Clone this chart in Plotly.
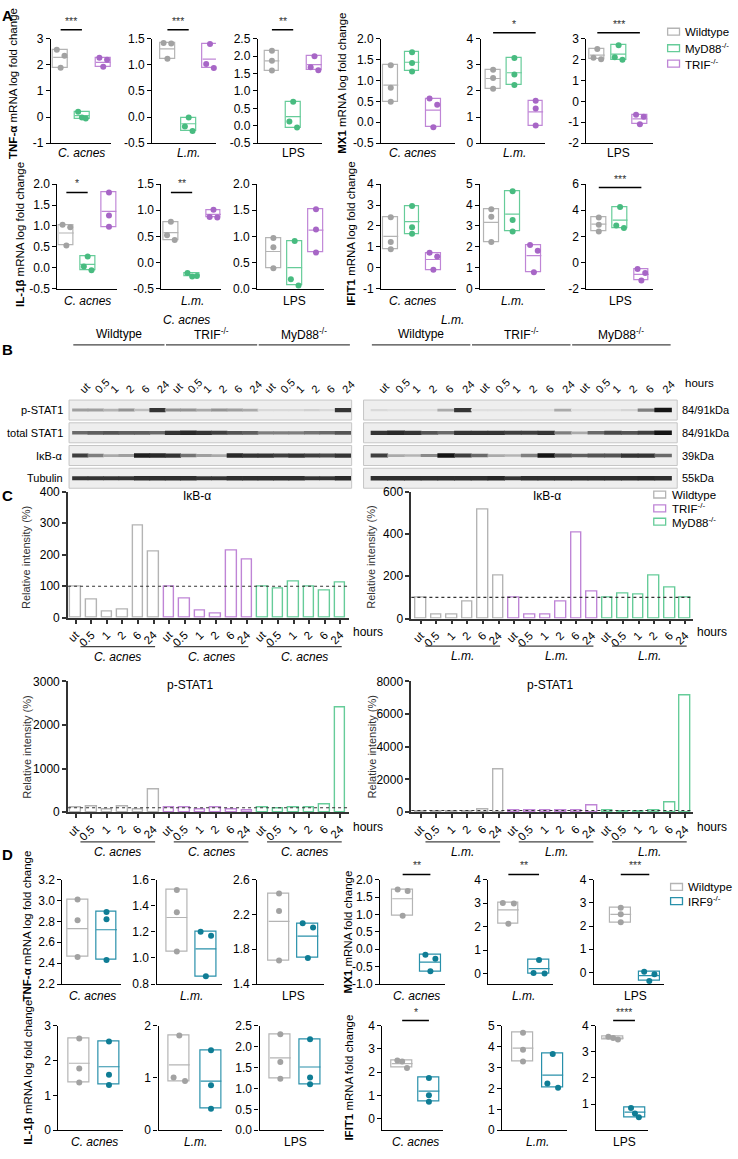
import plotly.graph_objects as go

W, H = 738, 1159
FONT = "Liberation Sans, Arial, sans-serif"

# ---------------- colours ----------------
C_WT, C_WT_D = "#b4b4b4", "#a2a2a2"
C_MYD, C_MYD_D = "#66cc99", "#48bb80"
C_TRIF, C_TRIF_D = "#bf85d6", "#a766c6"
C_IRF, C_IRF_D = "#2890aa", "#0f7d95"

# ---------------- Panel A data (log fold change) ----------------
a_groups = ["Wildtype", "MyD88<sup>-/-</sup>", "TRIF<sup>-/-</sup>"]
tnfa_cacnes = [[2.58, 2.35, 1.89], [0.20, -0.02, -0.06], [2.28, 2.20, 1.93]]
tnfa_cacnes_mid = [2.29, 0.05, 2.10]
tnfa_lm = [[1.42, 1.41, 1.12], [-0.01, -0.18, -0.27], [1.40, 1.02, 0.94]]
tnfa_lm_mid = [1.31, -0.13, 1.11]
tnfa_lps = [[2.16, 1.87, 1.59], [0.69, 0.12, -0.05], [2.00, 1.68, 1.60]]
tnfa_lps_mid = [1.87, 0.26, 1.76]
mx1_cacnes = [[1.37, 0.83, 0.49], [1.68, 1.42, 1.22], [0.57, 0.42, -0.12]]
mx1_cacnes_mid = [0.89, 1.44, 0.29]
mx1_lm = [[2.82, 2.50, 2.09], [3.27, 2.63, 2.23], [1.62, 1.33, 0.67]]
mx1_lm_mid = [2.48, 2.70, 1.20]
mx1_lps = [[2.52, 2.10, 2.02], [2.70, 2.12, 2.00], [-0.64, -0.74, -1.10]]
mx1_lps_mid = [2.22, 2.27, -0.84]
il1b_cacnes = [[1.03, 0.97, 0.53], [0.27, 0.03, -0.06], [1.80, 1.25, 0.98]]
il1b_cacnes_mid = [0.83, 0.08, 1.35]
il1b_lm = [[0.78, 0.52, 0.43], [-0.20, -0.27, -0.26], [1.01, 0.87, 0.86]]
il1b_lm_mid = [0.57, -0.24, 0.92]
il1b_lps = [[0.97, 0.79, 0.39], [0.91, 0.18, 0.06], [1.52, 1.13, 0.69]]
il1b_lps_mid = [0.71, 0.40, 1.12]
ifit1_cacnes = [[2.41, 1.23, 0.88], [2.95, 1.94, 1.63], [0.72, 0.53, -0.10]]
ifit1_cacnes_mid = [1.50, 2.20, 0.39]
ifit1_lm = [[3.80, 3.44, 2.23], [4.66, 3.28, 2.73], [2.08, 1.81, 0.78]]
ifit1_lm_mid = [3.17, 3.56, 1.58]
ifit1_lps = [[3.45, 2.88, 2.38], [4.25, 2.83, 2.63], [-0.50, -0.80, -1.38]]
ifit1_lps_mid = [2.93, 3.25, -0.92]

# ---------------- Panel B data (band intensity 0..1) ----------------
lanes = ["ut", "0.5", "1", "2", "6", "24"]
blot_groups = ["Wildtype", "TRIF<sup>-/-</sup>", "MyD88<sup>-/-</sup>"]
blot_rows = ["p-STAT1", "total STAT1", "IκB-α", "Tubulin"]
blot_kda = ["84/91kDa", "84/91kDa", "39kDa", "55kDa"]
blot_cacnes_pstat1 = [0.35, 0.35, 0.25, 0.40, 0.20, 0.85, 0.40, 0.40, 0.30, 0.40, 0.35, 0.30, 0.08, 0.08, 0.08, 0.12, 0.08, 0.85]
blot_cacnes_stat1 = [0.60, 0.65, 0.70, 0.65, 0.65, 0.60, 0.85, 0.90, 0.85, 0.80, 0.70, 0.65, 0.50, 0.50, 0.50, 0.55, 0.60, 0.70]
blot_cacnes_ikba = [0.80, 0.50, 0.30, 0.35, 0.95, 0.90, 0.85, 0.55, 0.35, 0.30, 0.90, 0.85, 0.85, 0.80, 0.85, 0.80, 0.75, 0.85]
blot_cacnes_tub = [0.85, 0.85, 0.85, 0.85, 0.88, 0.88, 0.88, 0.88, 0.85, 0.85, 0.88, 0.88, 0.88, 0.88, 0.88, 0.85, 0.85, 0.90]
blot_lm_pstat1 = [0.08, 0.05, 0.05, 0.05, 0.30, 0.85, 0.05, 0.05, 0.05, 0.05, 0.05, 0.30, 0.05, 0.05, 0.05, 0.10, 0.50, 1.00]
blot_lm_stat1 = [0.85, 0.90, 0.85, 0.70, 0.60, 0.85, 0.85, 0.85, 0.80, 0.80, 0.85, 0.50, 0.30, 0.60, 0.75, 0.70, 0.80, 1.00]
blot_lm_ikba = [0.80, 0.30, 0.25, 0.45, 1.00, 0.80, 0.60, 0.30, 0.25, 0.50, 1.00, 0.70, 0.65, 0.70, 0.70, 0.85, 0.85, 0.60]
blot_lm_tub = [0.88, 0.88, 0.88, 0.88, 0.88, 0.88, 0.88, 0.92, 0.85, 0.88, 0.88, 0.88, 0.88, 0.88, 0.88, 0.88, 0.90, 0.88]

# ---------------- Panel C data (relative intensity %) ----------------
c_groups = ["Wildtype", "TRIF<sup>-/-</sup>", "MyD88<sup>-/-</sup>"]
ikba_cacnes = [[100, 58, 20, 27, 293, 211], [100, 62, 24, 14, 212, 186], [100, 94, 115, 100, 86, 113]]
ikba_lm = [[100, 18, 18, 82, 517, 204], [100, 18, 18, 82, 405, 127], [100, 117, 115, 203, 144, 100]]
pstat1_cacnes = [[100, 128, 60, 135, 60, 514], [100, 100, 60, 100, 55, 50], [100, 80, 100, 110, 166, 2404]]
pstat1_lm = [[60, 50, 40, 40, 160, 2640], [80, 80, 120, 80, 110, 400], [80, 60, 70, 80, 585, 7150]]

# ---------------- Panel D data ----------------
d_groups = ["Wildtype", "IRF9<sup>-/-</sup>"]
d_tnfa_cacnes = [[3.01, 2.81, 2.46], [2.89, 2.82, 2.43]]
d_tnfa_cacnes_mid = [2.73, 2.72]
d_tnfa_lm = [[1.52, 1.35, 1.05], [1.20, 1.17, 0.86]]
d_tnfa_lm_mid = [1.31, 1.07]
d_tnfa_lps = [[2.44, 2.24, 1.67], [2.10, 2.05, 1.70]]
d_tnfa_lps_mid = [2.12, 1.95]
d_mx1_cacnes = [[1.72, 1.67, 0.96], [-0.16, -0.27, -0.63]]
d_mx1_cacnes_mid = [1.45, -0.37]
d_mx1_lm = [[3.00, 2.98, 2.12], [0.58, 0.02, 0.00]]
d_mx1_lm_mid = [2.71, 0.21]
d_mx1_lps = [[2.79, 2.51, 2.16], [0.03, -0.08, -0.37]]
d_mx1_lps_mid = [2.50, -0.14]
d_il1b_cacnes = [[2.63, 1.77, 1.37], [2.54, 1.59, 1.30]]
d_il1b_cacnes_mid = [1.92, 1.82]
d_il1b_lm = [[1.81, 1.01, 0.94], [1.53, 0.86, 0.41]]
d_il1b_lm_mid = [1.25, 0.94]
d_il1b_lps = [[2.29, 1.63, 1.23], [2.17, 1.26, 1.10]]
d_il1b_lps_mid = [1.73, 1.51]
d_ifit1_cacnes = [[2.50, 2.45, 2.18], [1.75, 1.01, 0.73]]
d_ifit1_cacnes_mid = [2.36, 1.18]
d_ifit1_lm = [[4.66, 3.84, 3.28], [3.64, 2.23, 2.03]]
d_ifit1_lm_mid = [3.92, 2.63]
d_ifit1_lps = [[3.57, 3.52, 3.47], [0.85, 0.64, 0.50]]
d_ifit1_lps_mid = [3.52, 0.69]

# =====================================================================
fig = go.Figure()
layout = dict(width=W, height=H, margin=dict(l=0, r=0, t=0, b=0),
              paper_bgcolor="white", plot_bgcolor="rgba(0,0,0,0)",
              showlegend=False, font=dict(family=FONT, color="black", size=12),
              bargap=0)
shapes, annots = [], []
n_ax = [0]


def px2x(p):
    return p / W


def px2y(p):
    return 1 - p / H


def make_axes(L, R, T, B, xr, yr, xkw=None, ykw=None):
    n_ax[0] += 1
    k = n_ax[0]
    s = "" if k == 1 else str(k)
    xa = dict(domain=[L / W, R / W], range=xr, anchor="y" + s, showgrid=False,
              zeroline=False, fixedrange=True)
    ya = dict(domain=[1 - B / H, 1 - T / H], range=yr, anchor="x" + s, showgrid=False,
              zeroline=False, fixedrange=True)
    xa.update(xkw or {})
    ya.update(ykw or {})
    layout["xaxis" + s] = xa
    layout["yaxis" + s] = ya
    return "x" + s, "y" + s


def ticks(lo, hi, step, dec):
    n = int(round((hi - lo) / step))
    vals = [round(lo + i * step, 6) for i in range(n + 1)]
    return vals, [f"{v:.{dec}f}" for v in vals]


def spread(vals, ppu):
    n = len(vals)
    off = [0.0] * n
    for i in range(n):
        close = [j for j in range(n) if j != i and abs(vals[i] - vals[j]) * ppu < 6.5]
        if len(close) >= 2:
            off[i] = [-0.22, 0.0, 0.22][i]
        elif len(close) == 1:
            off[i] = -0.18 if i < close[0] else 0.18
    return off


def text(x, y, t, size=12, xanchor="center", yanchor="middle", color="black", angle=0, xref="paper"):
    annots.append(dict(x=x if xref != "paper" else px2x(x), xref=xref, y=px2y(y), yref="paper",
                       text=t, showarrow=False, xanchor=xanchor, yanchor=yanchor,
                       textangle=angle, font=dict(size=size, color=color)))


def box_panel(L, R, T, B, c0, sp, bw_px, yr, tk, pts, mids, cols, dcols, label, italic, label_y):
    xr = [(L - c0) / sp, (R - c0) / sp]
    tv, tt = tk
    ykw = dict(showline=True, linecolor="black", linewidth=1.2, ticks="outside", ticklen=4,
               tickwidth=1.2, tickcolor="black", tickvals=tv, ticktext=tt, tickfont=dict(size=12))
    xkw = dict(showline=True, linecolor="black", linewidth=1.2, showticklabels=False, ticks="")
    xa, ya = make_axes(L, R, T, B, xr, yr, xkw, ykw)
    bw = bw_px / sp
    n = len(pts)
    xs = list(range(n))
    lo = [min(p) for p in pts]
    hi = [max(p) for p in pts]
    fig.add_trace(go.Bar(x=xs, y=[h - l for h, l in zip(hi, lo)], base=lo, width=bw,
                         marker=dict(color="rgba(255,255,255,0)", line=dict(color=cols, width=1.2)),
                         xaxis=xa, yaxis=ya, hoverinfo="skip"))
    for i in range(n):
        fig.add_trace(go.Scatter(x=[i - bw / 2, i + bw / 2], y=[mids[i], mids[i]], mode="lines",
                                 line=dict(color=cols[i], width=1.2), xaxis=xa, yaxis=ya,
                                 hoverinfo="skip"))
    ppu = (B - T) / (yr[1] - yr[0])
    X, Y, C = [], [], []
    for i, p in enumerate(pts):
        for v, o in zip(p, spread(p, ppu)):
            X.append(i + o)
            Y.append(v)
            C.append(dcols[i])
    fig.add_trace(go.Scatter(x=X, y=Y, mode="markers", marker=dict(color=C, size=6),
                             xaxis=xa, yaxis=ya, cliponaxis=False, hoverinfo="skip"))
    text((n - 1) / 2, label_y, f"<i>{label}</i>" if italic else label, size=12, xref=xa)
    return xa


def sig(xa, i0, i1, yl, stars):
    shapes.append(dict(type="line", xref=xa, x0=i0, x1=i1, yref="paper", y0=px2y(yl), y1=px2y(yl),
                       line=dict(color="black", width=1.5)))
    text((i0 + i1) / 2, yl - 1, stars, size=10.5, yanchor="bottom", color="#333", xref=xa)


def ytitle(x, yc, bold, rest, size=11.5):
    text(x, yc, f"<b>{bold}</b> {rest}", size=size, angle=-90)


def legend(x, ys, names, cols, size=11.5):
    for y, nm, c in zip(ys, names, cols):
        shapes.append(dict(type="rect", xref="paper", yref="paper", x0=px2x(x), x1=px2x(x + 12),
                           y0=px2y(y + 3.5), y1=px2y(y - 3.5), line=dict(color=c, width=1.3),
                           fillcolor="white"))
        text(x + 16, y, nm, size=size, xanchor="left")


# ---------------- Panel A ----------------
A3 = [C_WT, C_MYD, C_TRIF]
A3d = [C_WT_D, C_MYD_D, C_TRIF_D]
SP = 21.5
R1T, R1B, R1L = 32.3, 137.7, 148
R2T, R2B, R2L = 179.3, 285.0, 298

xa = box_panel(49.3, 110, R1T, R1B, 59.2, SP, 15, [-1, 3], ticks(-1, 3, 1, 0), tnfa_cacnes, tnfa_cacnes_mid, A3, A3d, "C. acnes", True, R1L)
sig(xa, 0, 1, 23, "***")
xa = box_panel(151.7, 216, R1T, R1B, 167, SP, 15, [-0.5, 1.5], ticks(-0.5, 1.5, 0.5, 1), tnfa_lm, tnfa_lm_mid, A3, A3d, "L.m.", True, R1L)
sig(xa, 0, 1, 23, "***")
xa = box_panel(258.3, 323, R1T, R1B, 272.5, SP, 15, [-0.5, 2.5], ticks(-0.5, 2.5, 0.5, 1), tnfa_lps, tnfa_lps_mid, A3, A3d, "LPS", False, R1L)
sig(xa, 0, 1, 23, "**")
xa = box_panel(382.7, 457, R1T, R1B, 392.5, SP, 15, [-0.5, 2.0], ticks(-0.5, 2.0, 0.5, 1), mx1_cacnes, mx1_cacnes_mid, A3, A3d, "C. acnes", True, R1L)
xa = box_panel(483.3, 548, R1T, R1B, 495.8, SP, 15, [0, 4], ticks(0, 4, 1, 0), mx1_lm, mx1_lm_mid, A3, A3d, "L.m.", True, R1L)
sig(xa, 0, 2, 26, "*")
xa = box_panel(590, 657, R1T, R1B, 601, SP, 15, [-2, 3], ticks(-2, 3, 1, 0), mx1_lps, mx1_lps_mid, A3, A3d, "LPS", False, R1L)
sig(xa, 0, 2, 26, "***")

xa = box_panel(56, 116, R2T, R2B, 65, SP, 15, [-0.5, 2.0], ticks(-0.5, 2.0, 0.5, 1), il1b_cacnes, il1b_cacnes_mid, A3, A3d, "C. acnes", True, R2L)
sig(xa, 0, 1, 187.7, "*")
xa = box_panel(161, 221, R2T, R2B, 170.5, SP, 15, [-0.5, 1.5], ticks(-0.5, 1.5, 0.5, 1), il1b_lm, il1b_lm_mid, A3, A3d, "L.m.", True, R2L)
sig(xa, 0, 1, 187.7, "**")
xa = box_panel(257.7, 325, R2T, R2B, 274, SP, 15, [0, 2.0], ticks(0, 2.0, 0.5, 1), il1b_lps, il1b_lps_mid, A3, A3d, "LPS", False, R2L)
xa = box_panel(382.7, 458, R2T, R2B, 392.5, SP, 15, [-1, 4], ticks(-1, 4, 1, 0), ifit1_cacnes, ifit1_cacnes_mid, A3, A3d, "C. acnes", True, R2L)
xa = box_panel(482.7, 548, R2T, R2B, 494, SP, 15, [0, 5], ticks(0, 5, 1, 0), ifit1_lm, ifit1_lm_mid, A3, A3d, "L.m.", True, R2L)
xa = box_panel(590, 657, R2T, R2B, 602.5, SP, 15, [-2, 6], ticks(-2, 6, 2, 0), ifit1_lps, ifit1_lps_mid, A3, A3d, "LPS", False, R2L)
sig(xa, 0, 2, 182.7, "***")

ytitle(11, 77, "TNF-α", "mRNA log fold change")
ytitle(343, 77, "MX1", "mRNA log fold change")
ytitle(18, 230, "IL-1β", "mRNA log fold change")
ytitle(353, 230, "IFIT1", "mRNA log fold change")
legend(672, [25, 41.7, 57.3], a_groups, A3)
text(6, 9, "<b>A</b>", size=15, xanchor="center")

# ---------------- Panel B (western blots) ----------------
ROWC = [408, 431, 454, 477]
ROWSP = 23.0


def gray(i):
    v = int(round(234 - 214 * i))
    return f"rgb({v},{v},{v})"


def blot_panel(L, R, c0, sp, rows, species, species_px, left_labels, right_labels):
    xr = [(L - c0) / sp, (R - c0) / sp]
    T = ROWC[0] - ROWSP / 2
    B = ROWC[-1] + ROWSP / 2
    yr = [-(len(rows) - 1) - 0.5, 0.5]
    xkw = dict(side="top", tickvals=list(range(18)), ticktext=lanes * 3, tickangle=-45, ticks="",
               showline=False, tickfont=dict(size=11))
    ykw = dict(showticklabels=False, ticks="", showline=False)
    xa, ya = make_axes(L, R, T, B, xr, yr, xkw, ykw)
    for r, ints in enumerate(rows):
        shapes.append(dict(type="rect", xref=xa + " domain", x0=0, x1=1, yref=ya, y0=-r - 0.44,
                           y1=-r + 0.44, fillcolor="#eeeeee", line=dict(color="#c6c6c6", width=1),
                           layer="below"))
        fig.add_trace(go.Scatter(x=list(range(18)), y=[-r] * 18, mode="markers",
                                 marker=dict(symbol="line-ew", size=sp * 0.74,
                                             line=dict(color=[gray(i) for i in ints],
                                                       width=[2.0 + 2.6 * i for i in ints])),
                                 xaxis=xa, yaxis=ya, hoverinfo="skip"))
        if left_labels:
            text(L - 4, ROWC[r], left_labels[r], size=11, xanchor="right")
        if right_labels:
            text(R + 3, ROWC[r], right_labels[r], size=11, xanchor="left")
    for g, nm in enumerate(blot_groups):
        text(g * 6 + 2.5, 331, nm, size=12, xref=xa)
        shapes.append(dict(type="line", xref=xa, x0=g * 6 - 0.45, x1=g * 6 + 5.45, yref="paper",
                           y0=px2y(342), y1=px2y(342), line=dict(color="#444", width=1.2)))
    text(species_px, 317, f"<i>{species}</i>", size=12)
    return xa


blot_panel(67.7, 353, 79, 15.6,
           [blot_cacnes_pstat1, blot_cacnes_stat1, blot_cacnes_ikba, blot_cacnes_tub],
           "C. acnes", 186, blot_rows, None)
blot_panel(365, 681.7, 381, 16.85,
           [blot_lm_pstat1, blot_lm_stat1, blot_lm_ikba, blot_lm_tub],
           "L.m.", 455, None, blot_kda)
text(688, 381, "hours", size=11.5, xanchor="left")
text(6, 347, "<b>B</b>", size=15)

# ---------------- Panel C (quantification) ----------------
C3 = [C_WT, C_TRIF, C_MYD]


def bar_panel(L, R, T, B, c0, sp, yr, tk, groups, title, title_x, species, hours_y, line_y, lab_y):
    xr = [(L - c0) / sp, (R - c0) / sp]
    tv, tt = tk
    axc = "#333"
    xkw = dict(showline=True, linecolor=axc, linewidth=1.8, ticks="outside", ticklen=4, tickwidth=1.5,
               tickcolor=axc, tickvals=list(range(18)), ticktext=lanes * 3, tickangle=-45,
               tickfont=dict(size=11.5))
    ykw = dict(showline=True, linecolor=axc, linewidth=1.8, ticks="outside", ticklen=4, tickwidth=1.5,
               tickcolor=axc, tickvals=tv, ticktext=tt, tickfont=dict(size=12))
    xa, ya = make_axes(L, R, T, B, xr, yr, xkw, ykw)
    vals, cols = [], []
    for g, v in enumerate(groups):
        vals += v
        cols += [C3[g]] * len(v)
    fig.add_trace(go.Bar(x=list(range(18)), y=vals, width=0.68,
                         marker=dict(color="rgba(255,255,255,0)", line=dict(color=cols, width=1.4)),
                         xaxis=xa, yaxis=ya, hoverinfo="skip"))
    shapes.append(dict(type="line", xref=xa + " domain", x0=0, x1=1, yref=ya, y0=100, y1=100,
                       line=dict(color="#333", width=1.1, dash="dot")))
    text(title_x, T + 4, title, size=12)
    text(R + 2, hours_y, "hours", size=12, xanchor="left")
    for g in range(3):
        shapes.append(dict(type="line", xref=xa, x0=g * 6 + 0.3, x1=g * 6 + 5.1, yref="paper",
                           y0=px2y(line_y), y1=px2y(line_y), line=dict(color="#444", width=1.2)))
        text(g * 6 + 2.7, lab_y, f"<i>{species}</i>", size=12, xref=xa)
    return xa


CT = 490.5
bar_panel(66.7, 350, CT, 618.3, 74.5, 15.7, [0, 400], ticks(0, 400, 100, 0), ikba_cacnes,
          "IκB-α", 197, "C. acnes", 633, 647.5, 658)
bar_panel(413.3, 698, CT, 619, 422.8, 15.7, [0, 600], ticks(0, 600, 200, 0), ikba_lm,
          "IκB-α", 550, "L.m.", 633, 647, 657)
bar_panel(66.7, 350, 682.7, 815, 74.5, 15.7, [0, 3000], ticks(0, 3000, 1000, 0), pstat1_cacnes,
          "p-STAT1", 190, "C. acnes", 830, 845, 855)
bar_panel(413.3, 698, 682.7, 815, 422.8, 15.7, [0, 8000], ticks(0, 8000, 2000, 0), pstat1_lm,
          "p-STAT1", 554, "L.m.", 830, 845, 855)
for yx in [(25, 557), (373, 557), (25, 749), (373, 749)]:
    text(yx[0], yx[1], "Relative intensity (%)", size=11, angle=-90, color="#333")
legend(658, [493.5, 507.5, 521], c_groups, C3)
text(6, 494, "<b>C</b>", size=15)

# ---------------- Panel D ----------------
D2 = [C_WT, C_IRF]
D2d = [C_WT_D, C_IRF_D]
D1T, D1B, D1L = 883.3, 989, 1001
D2T, D2B, D2L = 1031, 1137, 1149
BWD = 21

xa = box_panel(61, 120, D1T, D1B, 76.3, 29.2, BWD, [2.2, 3.2], ticks(2.2, 3.2, 0.2, 1), d_tnfa_cacnes, d_tnfa_cacnes_mid, D2, D2d, "C. acnes", True, D1L)
xa = box_panel(156, 222, D1T, D1B, 176.5, 29.3, BWD, [0.8, 1.6], ticks(0.8, 1.6, 0.2, 1), d_tnfa_lm, d_tnfa_lm_mid, D2, D2d, "L.m.", True, D1L)
xa = box_panel(257.7, 325, D1T, D1B, 279.7, 29.1, BWD, [1.4, 2.6], ticks(1.4, 2.6, 0.4, 1), d_tnfa_lps, d_tnfa_lps_mid, D2, D2d, "LPS", False, D1L)
xa = box_panel(381.7, 447, D1T, D1B, 404.5, 28, BWD, [-1.0, 2.0], ticks(-1.0, 2.0, 0.5, 1), d_mx1_cacnes, d_mx1_cacnes_mid, D2, D2d, "C. acnes", True, D1L)
sig(xa, 0, 1, 878, "**")
xa = box_panel(491, 556, D1T, D1B, 511.2, 31, BWD, [-0.45, 4], ticks(0, 4, 1, 0), d_mx1_lm, d_mx1_lm_mid, D2, D2d, "L.m.", True, D1L)
sig(xa, 0, 1, 878, "**")
xa = box_panel(597.7, 668, D1T, D1B, 624.7, 28.8, BWD, [-0.5, 4], ticks(0, 4, 1, 0), d_mx1_lps, d_mx1_lps_mid, D2, D2d, "LPS", False, D1L)
sig(xa, 0, 1, 878, "***")

xa = box_panel(57, 122, D2T, D2B, 78, 30, BWD, [0, 3], ticks(0, 3, 1, 0), d_il1b_cacnes, d_il1b_cacnes_mid, D2, D2d, "C. acnes", True, D2L)
xa = box_panel(158, 222, D2T, D2B, 179, 32, BWD, [0, 2], ticks(0, 2, 1, 0), d_il1b_lm, d_il1b_lm_mid, D2, D2d, "L.m.", True, D2L)
xa = box_panel(260, 325, D2T, D2B, 281, 30, BWD, [0, 2.5], ticks(0, 2.5, 0.5, 1), d_il1b_lps, d_il1b_lps_mid, D2, D2d, "LPS", False, D2L)
xa = box_panel(384, 445, D2T, D2B, 404, 27, BWD, [-0.5, 4], ticks(0, 4, 1, 0), d_ifit1_cacnes, d_ifit1_cacnes_mid, D2, D2d, "C. acnes", True, D2L)
sig(xa, 0, 1, 1026, "*")
xa = box_panel(505, 570, D2T, D2B, 526, 30, BWD, [0, 5], ticks(0, 5, 1, 0), d_ifit1_lm, d_ifit1_lm_mid, D2, D2d, "L.m.", True, D2L)
xa = box_panel(600, 652, D2T, D2B, 617, 22, BWD, [0, 4], ticks(1, 4, 1, 0), d_ifit1_lps, d_ifit1_lps_mid, D2, D2d, "LPS", False, D2L)
sig(xa, 0, 1, 1026, "****")

ytitle(25, 930, "TNF-α", "mRNA log fold change")
ytitle(349, 936, "MX1", "mRNA fold change")
ytitle(26, 1078, "IL-1β", "mRNA log fold change")
ytitle(350, 1084, "IFIT1", "mRNA fold change")
legend(675, [890.7, 905], d_groups, D2)
text(6, 858, "<b>D</b>", size=15)

layout["shapes"] = shapes
layout["annotations"] = annots
fig.update_layout(**layout)
fig.write_html("out.html", config={"displayModeBar": False},
               post_script="document.body.style.margin='0px';")
